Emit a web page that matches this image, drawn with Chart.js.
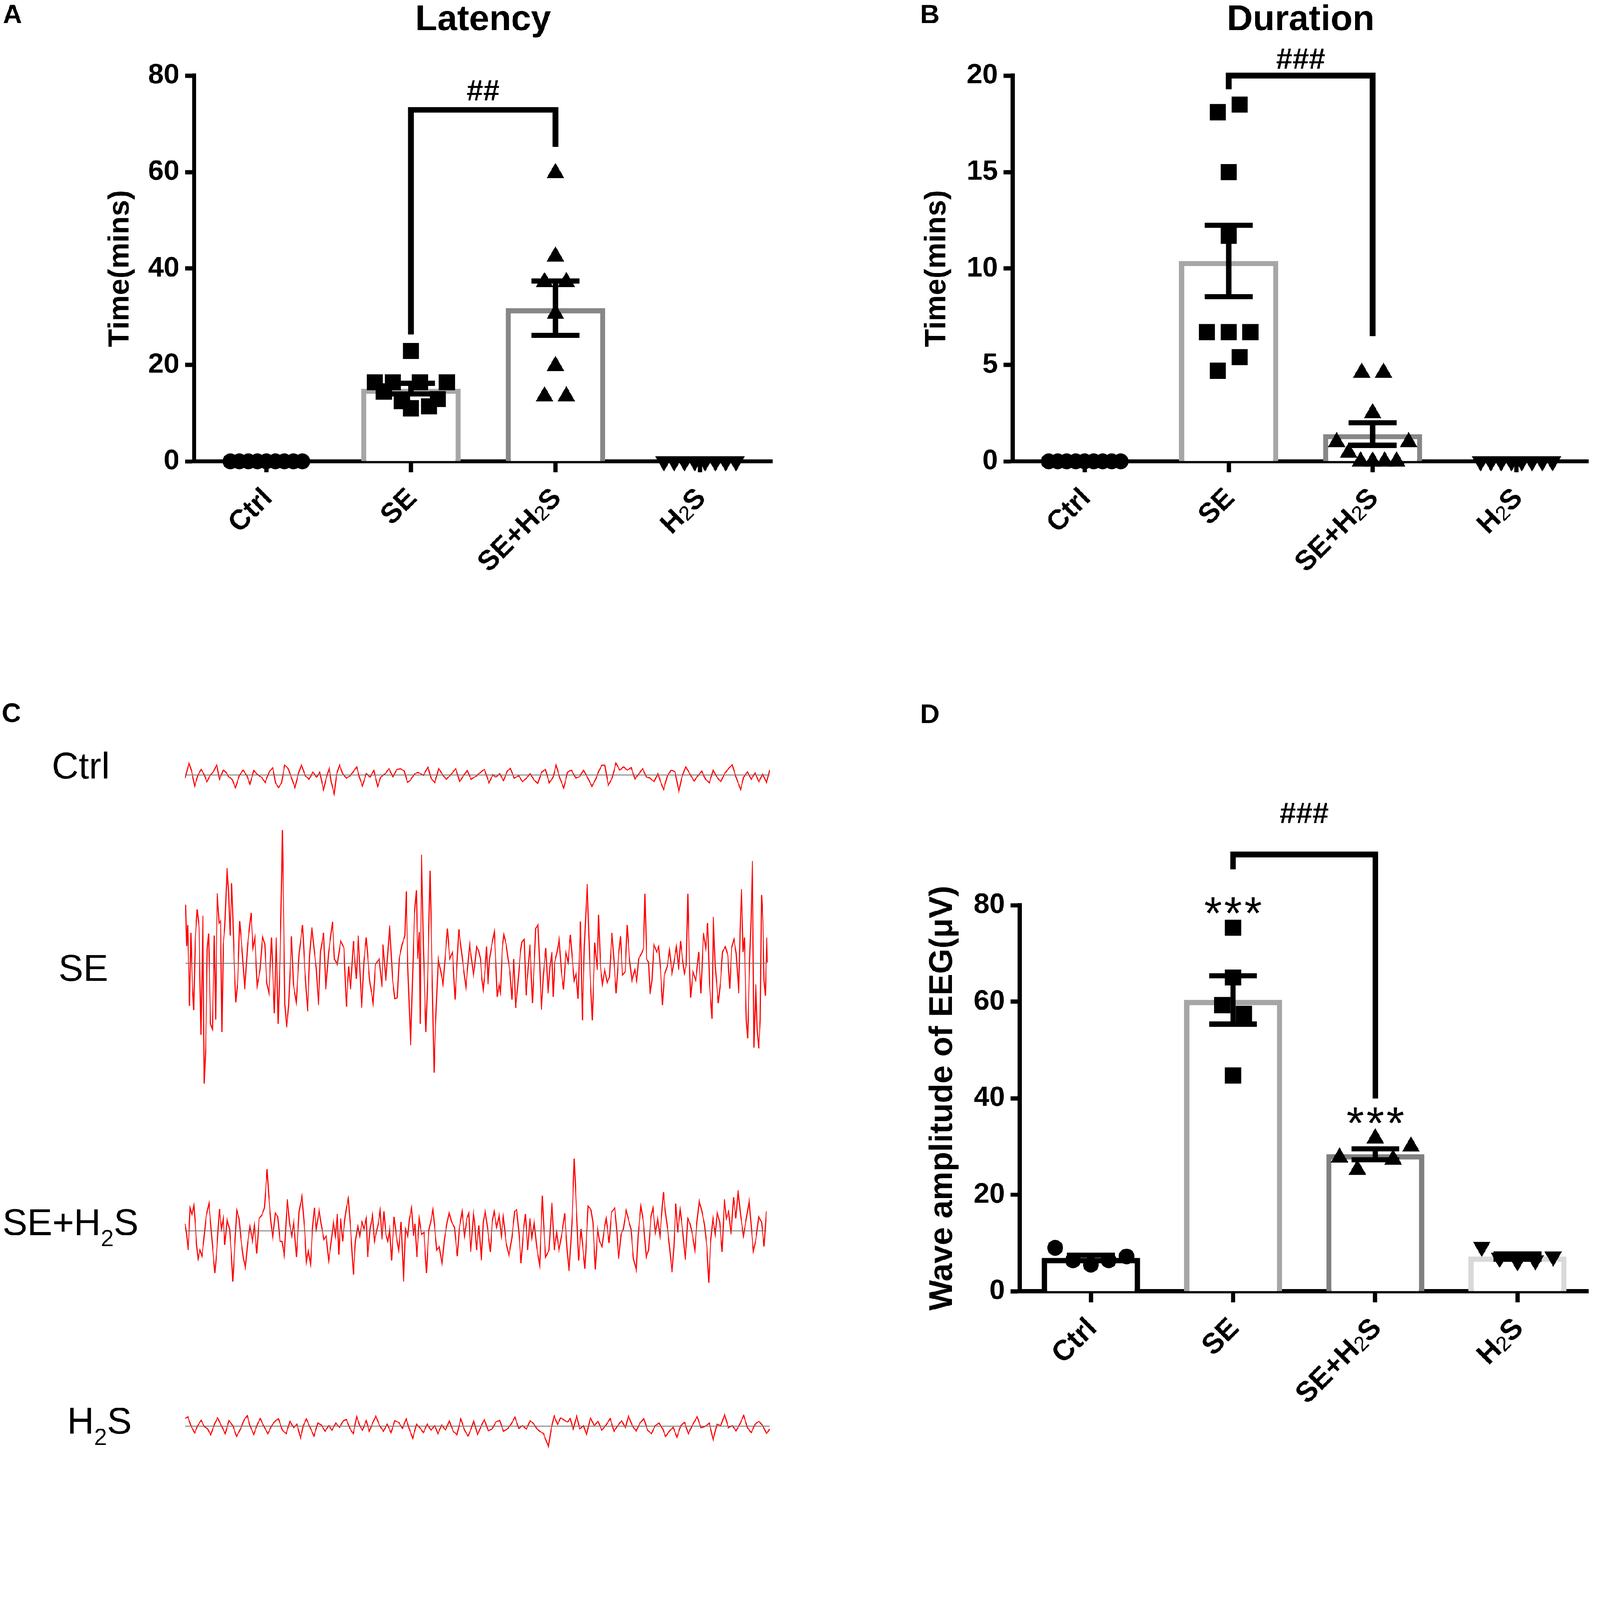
<!DOCTYPE html>
<html>
<head>
<meta charset="utf-8">
<script src="https://cdn.jsdelivr.net/npm/chart.js@4.4.1/dist/chart.umd.min.js"></script>
<style>
  html, body { margin: 0; padding: 0; background: #fff; overflow: hidden; }
  #page { position: absolute; left: 0; top: 0; width: 4550px; height: 4254px; transform-origin: 0 0; background: #fff; }
  canvas { position: absolute; }
</style>
</head>
<body>
<div id="page">
<canvas id="latency"></canvas>
<canvas id="duration"></canvas>
<canvas id="amplitude"></canvas>
<canvas id="eegCtrl"></canvas>
<canvas id="eegSE"></canvas>
<canvas id="eegSEH2S"></canvas>
<canvas id="eegH2S"></canvas>
</div>
<script>
const FONT = '"Liberation Sans", Arial, Helvetica, sans-serif';

// ---------- data ----------
const groups = ['Ctrl', 'SE', 'SE+H2S', 'H2S'];

// A: latency (mins), one value per animal, in plotted left-to-right order
const latencyCtrl = [0, 0, 0, 0, 0, 0, 0, 0, 0];
const latencySE = [16.4, 14.5, 16.4, 12.5, 22.9, 11.0, 16.4, 11.4, 12.9, 16.4];
const latencySEH2S = [13.5, 37.2, 59.8, 42.5, 30.6, 19.8, 13.5, 37.2];
const latencyH2S = [0, 0, 0, 0, 0, 0, 0, 0];
const latencyTicks = [0, 20, 40, 60, 80];

// B: duration (mins)
const durationCtrl = [0, 0, 0, 0, 0, 0, 0, 0, 0];
const durationSE = [6.7, 18.1, 4.7, 15.0, 11.7, 6.7, 18.5, 5.4, 6.7];
const durationSEH2S = [1.0, 0.45, 0, 4.6, 0, 2.5, 4.6, 0, 0, 1.0];
const durationH2S = [0, 0, 0, 0, 0, 0, 0, 0];
const durationTicks = [0, 5, 10, 15, 20];

// D: EEG wave amplitude (uV)
const ampCtrl = [9.0, 6.4, 5.5, 6.4, 7.2];
const ampSE = [59.3, 75.3, 65.0, 44.7, 57.5];
const ampSEH2S = [27.7, 25.2, 31.7, 27.3, 30.0];
const ampH2S = [9.2, 6.9, 6.2, 6.4, 7.2];
const ampTicks = [0, 20, 40, 60, 80];

// C: EEG traces as [sample, amplitude] pairs
const eegCtrl = [[12,-9],[32,34],[46,11],[62,-31],[78,-2],[96,16],[112,1],[126,-19],[142,-2],[162,11],[178,29],[192,-12],[212,14],[226,8],[242,-6],[258,-12],[276,-36],[296,-2],[316,14],[336,-2],[352,-26],[372,13],[392,1],[412,-6],[432,-21],[452,8],[472,21],[486,-22],[502,-36],[518,-22],[534,28],[552,19],[572,-11],[588,-36],[606,4],[622,29],[642,-2],[662,-12],[682,8],[702,-6],[718,8],[738,-42],[752,-9],[768,19],[778,-19],[794,-54],[806,1],[822,28],[838,4],[858,-9],[878,-2],[892,8],[912,23],[926,-6],[942,-31],[962,4],[982,-6],[1002,13],[1022,-32],[1038,-6],[1062,4],[1082,18],[1102,-6],[1122,16],[1142,18],[1162,11],[1178,-21],[1192,-16],[1212,1],[1232,8],[1262,-1],[1286,23],[1302,-9],[1322,-22],[1342,19],[1362,1],[1382,-12],[1406,1],[1432,18],[1452,-19],[1472,-2],[1492,13],[1512,-12],[1542,-2],[1562,8],[1582,16],[1606,-22],[1626,1],[1642,-6],[1662,4],[1682,-16],[1702,11],[1718,19],[1738,-9],[1762,-2],[1782,-19],[1802,-9],[1822,4],[1842,-14],[1862,-24],[1882,8],[1902,16],[1922,-22],[1942,-7],[1958,28],[1978,-9],[1998,-37],[2018,8],[2038,14],[2062,-9],[2082,-4],[2102,14],[2122,-6],[2146,-32],[2166,-12],[2182,11],[2198,28],[2214,28],[2232,-29],[2252,-9],[2272,34],[2292,14],[2312,23],[2332,14],[2352,21],[2372,-11],[2392,3],[2412,18],[2432,-6],[2452,-9],[2472,-19],[2492,4],[2506,-19],[2522,-41],[2542,-2],[2562,14],[2582,9],[2602,-46],[2618,-6],[2638,24],[2662,1],[2682,-17],[2702,-2],[2722,11],[2742,-12],[2762,-22],[2782,14],[2802,-6],[2822,-19],[2842,4],[2862,18],[2882,29],[2902,-6],[2926,-41],[2942,-6],[2962,9],[2982,-12],[3002,6],[3022,-19],[3042,3],[3062,-22],[3078,14]];

const eegSE = [[15,166],[20,48],[25,109],[35,-121],[42,86],[50,-60],[57,-134],[65,68],[75,153],[85,104],[95,-204],[105,135],[112,-342],[120,-240],[128,43],[135,84],[145,-173],[155,-188],[165,78],[172,-160],[180,199],[190,114],[198,120],[205,-196],[212,53],[220,104],[232,271],[240,204],[248,78],[256,227],[262,135],[270,-9],[278,-111],[288,-50],[298,120],[310,43],[325,-75],[340,53],[358,143],[368,43],[378,73],[390,-65],[405,-19],[418,76],[430,53],[440,-55],[452,-86],[465,73],[480,-142],[490,73],[500,-173],[510,12],[518,232],[522,379],[528,171],[535,-116],[545,-183],[555,-121],[570,76],[580,-60],[595,-111],[610,27],[628,109],[640,-19],[655,-137],[665,22],[677,102],[690,32],[700,-14],[712,-119],[722,32],[738,86],[750,-75],[765,32],[785,117],[795,12],[810,-4],[828,63],[845,43],[858,-124],[870,-9],[880,-75],[895,63],[910,-45],[920,78],[938,-127],[950,7],[962,73],[980,-50],[998,-114],[1010,-4],[1030,12],[1045,-68],[1050,53],[1065,-50],[1085,107],[1100,-45],[1112,-101],[1125,-98],[1135,12],[1150,53],[1165,78],[1172,204],[1180,-9],[1195,-234],[1205,-45],[1215,140],[1225,207],[1232,12],[1240,89],[1245,-173],[1252,309],[1262,43],[1275,-196],[1285,-34],[1297,263],[1305,43],[1318,-311],[1325,-183],[1340,12],[1355,-29],[1365,-60],[1388,99],[1400,12],[1415,32],[1428,-104],[1448,96],[1462,32],[1485,-68],[1505,53],[1525,-34],
  [1531,-9],[1541,47],[1551,37],[1561,12],[1569,-45],[1576,-75],[1586,-14],[1593,47],[1601,-60],[1609,12],[1621,53],[1634,89],[1643,-14],[1649,-96],[1659,-60],[1666,-83],[1676,43],[1684,81],[1696,53],[1706,12],[1716,-24],[1726,-104],[1736,12],[1746,-127],[1756,-70],[1771,32],[1779,61],[1791,68],[1801,-91],[1811,-19],[1821,53],[1834,-114],[1846,32],[1851,99],[1863,109],[1871,12],[1881,-132],[1891,-34],[1904,43],[1916,-86],[1926,-9],[1936,32],[1943,-96],[1951,2],[1963,32],[1974,68],[1986,-24],[1997,-75],[2009,32],[2021,2],[2033,81],[2043,12],[2053,-50],[2063,-29],[2073,-101],[2086,119],[2096,-163],[2106,43],[2121,225],[2129,94],[2137,-34],[2148,-163],[2161,58],[2174,-19],[2181,137],[2191,-9],[2201,-60],[2213,-19],[2226,-55],[2238,-40],[2251,86],[2261,12],[2273,-86],[2286,22],[2296,76],[2306,-34],[2321,-24],[2331,109],[2343,12],[2356,-50],[2371,-19],[2381,-50],[2391,12],[2406,27],[2417,43],[2424,197],[2433,12],[2443,2],[2451,-88],[2461,-50],[2471,53],[2486,32],[2496,47],[2506,-19],[2516,-119],[2526,-34],[2541,-9],[2553,37],[2566,-29],[2576,2],[2589,47],[2601,-19],[2611,63],[2621,12],[2631,-29],[2641,-4],[2649,197],[2657,12],[2664,-98],[2676,-24],[2691,-50],[2706,32],[2718,-86],[2731,86],[2743,43],[2753,114],[2763,-60],[2776,-158],[2783,132],[2793,-9],[2809,-114],[2821,-50],[2831,32],[2846,47],[2859,22],[2869,-73],[2879,43],[2891,68],[2903,27],[2916,-86],[2924,99],[2931,211],[2939,32],[2946,73],[2956,-163],[2963,-214],[2973,2],[2981,122],[2988,291],[2996,-240],[3006,-60],[3013,-188],[3021,-242],[3029,-163],[3036,194],[3043,125],[3049,-50],[3056,-93],[3063,73],[3066,2]];

const eegSEH2S = [[12,20],[20,-10],[28,-55],[38,65],[48,45],[58,72],[65,20],[72,-40],[80,-80],[90,-55],[100,-72],[110,-25],[122,40],[137,78],[148,5],[158,-60],[168,-120],[178,-55],[192,62],[203,5],[212,35],[220,-40],[232,32],[245,5],[255,-70],[262,-145],[270,-65],[283,58],[295,35],[305,-25],[318,-80],[328,-105],[340,-35],[352,12],[365,-30],[375,15],[388,-65],[400,35],[415,45],[428,65],[442,175],[450,105],[462,25],[472,-20],[485,50],[498,40],[510,-30],[520,-30],[532,-70],[548,90],[560,20],[572,-15],[582,25],[596,-75],[610,55],[625,98],[640,-5],[648,-88],[658,-55],[670,-95],[680,5],[690,65],[700,5],[715,58],[725,20],[740,-25],[752,-15],[765,-85],[775,-45],[790,25],[800,-15],[810,48],[818,-68],[828,35],[838,-30],[850,35],[858,65],[868,92],[880,5],[895,-125],[905,-30],[918,15],[928,-15],[940,25],[950,5],[962,35],[970,-75],[982,5],[995,45],[1005,-30],[1015,-5],[1025,20],[1035,58],[1045,-25],[1055,55],[1065,-10],[1075,-30],[1085,5],[1095,-85],[1108,40],[1120,-15],[1132,-55],[1145,25],[1158,-145],[1168,5],[1180,-15],[1188,32],[1200,65],[1210,-15],[1218,20],[1228,-75],[1240,35],[1252,-10],[1265,-5],[1278,-120],[1290,0],[1300,25],[1312,60],[1322,5],[1332,-55],[1345,-45],[1360,-95],[1372,-25],[1385,20],[1397,52],[1410,25],[1425,10],[1440,-72],[1450,5],[1465,55],[1478,-15],[1490,35],[1500,50],[1510,-60],[1525,50],
  [1531,25],[1541,-55],[1553,15],[1566,-85],[1576,25],[1586,55],[1599,5],[1613,-60],[1623,25],[1633,55],[1646,10],[1659,45],[1671,-15],[1681,40],[1696,-35],[1711,-70],[1726,-20],[1741,55],[1751,60],[1763,-5],[1774,-92],[1786,-5],[1797,48],[1809,-55],[1821,35],[1831,-20],[1843,25],[1856,-45],[1872,-98],[1886,100],[1893,15],[1903,-75],[1921,-55],[1936,80],[1949,-55],[1961,-5],[1973,-55],[1991,0],[2003,50],[2016,-55],[2026,-115],[2036,-30],[2043,45],[2053,205],[2061,110],[2069,10],[2076,-85],[2089,5],[2109,-108],[2126,70],[2141,60],[2151,25],[2164,-110],[2176,5],[2186,-30],[2199,-45],[2211,5],[2221,35],[2236,-35],[2249,52],[2266,65],[2276,5],[2286,-80],[2299,-10],[2311,5],[2326,58],[2341,25],[2351,5],[2364,-80],[2379,-112],[2389,-10],[2403,70],[2416,25],[2431,-75],[2443,-55],[2456,40],[2466,65],[2479,-5],[2491,35],[2503,-15],[2521,110],[2531,55],[2543,5],[2553,-45],[2566,-118],[2576,-45],[2586,78],[2596,-5],[2609,60],[2623,-5],[2636,-82],[2649,35],[2661,20],[2673,-10],[2686,-55],[2696,20],[2709,85],[2721,60],[2736,20],[2749,-45],[2759,-148],[2769,-30],[2781,35],[2793,-10],[2803,52],[2816,25],[2829,-60],[2841,90],[2851,35],[2863,55],[2876,-10],[2889,95],[2901,35],[2913,115],[2926,45],[2941,-15],[2956,35],[2971,85],[2983,5],[2993,-58],[3006,-25],[3021,40],[3036,25],[3049,-45],[3061,55]];

const eegH2S = [[12,22],[26,27],[42,2],[62,-19],[78,2],[96,17],[112,-1],[128,-6],[146,-24],[166,6],[182,24],[202,2],[222,-21],[242,16],[262,2],[282,-29],[302,-8],[322,19],[338,30],[352,2],[372,-23],[392,7],[406,22],[426,-1],[446,-21],[466,2],[486,16],[502,21],[522,-11],[542,-21],[562,14],[582,-4],[598,6],[618,-33],[632,2],[648,21],[668,-4],[688,-28],[708,9],[726,4],[746,-14],[766,2],[782,-11],[802,9],[822,-3],[842,16],[858,19],[878,-8],[894,-21],[912,27],[928,2],[942,-11],[962,16],[978,-14],[998,12],[1012,29],[1032,2],[1052,-14],[1072,6],[1092,-18],[1112,16],[1132,11],[1152,-6],[1172,21],[1188,-8],[1206,-34],[1226,6],[1246,-6],[1262,-18],[1282,6],[1302,-11],[1322,2],[1338,-21],[1358,4],[1378,-11],[1398,16],[1418,-14],[1438,-24],[1458,21],[1478,-11],[1496,-28],[1512,-8],[1526,16],[1546,-24],[1566,2],[1582,19],[1602,-13],[1622,-8],[1642,12],[1662,17],[1682,-14],[1702,-8],[1722,6],[1742,26],[1762,-6],[1782,2],[1802,-8],[1822,16],[1842,6],[1858,-8],[1872,-14],[1892,-21],[1906,-41],[1918,-58],[1932,-8],[1948,29],[1966,6],[1982,24],[2002,17],[2018,12],[2032,22],[2048,-8],[2066,29],[2082,-8],[2102,2],[2118,-24],[2138,24],[2158,2],[2178,14],[2198,-11],[2218,2],[2242,22],[2262,-14],[2282,2],[2302,16],[2322,-4],[2338,29],[2358,2],[2378,-14],[2398,9],[2418,22],[2438,-11],[2458,-21],[2478,2],[2498,9],[2518,-8],[2532,-29],[2552,-14],[2572,-3],[2592,-31],[2612,2],[2632,11],[2652,-21],[2672,2],[2698,27],[2718,-4],[2738,-1],[2762,9],[2782,-38],[2802,6],[2822,2],[2842,33],[2862,-4],[2882,2],[2902,-13],[2922,6],[2942,31],[2962,-4],[2982,-18],[3002,6],[3022,14],[3042,2],[3062,-21],[3078,-8]];

// ---------- styling ----------
const markers = [
  { style: 'circle', radius: 22.5, rotation: 0 },
  { style: 'rect', radius: 32.5, rotation: 0 },
  { style: 'triangle', radius: 29, rotation: 0 },
  { style: 'triangle', radius: 29, rotation: 180 }
];
const CAP = 68;          // half width of error bar caps
const ROW_GAP = 40;      // px: points closer than this share a row
const MAX_STEP = 62;     // px between neighbours in a row
const MAX_SPREAD = 205;  // px total width of a row
const X_HEIGHT = 200;
const LABEL_DROP = 88;

// the page is laid out at 4550 x 4254 and scaled to whatever the viewport is
const fit = Math.min(window.innerWidth / 4550, window.innerHeight / 4254);
document.getElementById('page').style.transform = 'scale(' + fit + ')';

Chart.defaults.font.family = FONT;
Chart.defaults.color = '#000';

function mean(a) { return a.reduce((s, v) => s + v, 0) / a.length; }
function sem(a) {
  const m = mean(a);
  const ss = a.reduce((s, v) => s + (v - m) * (v - m), 0);
  return Math.sqrt(ss / (a.length - 1)) / Math.sqrt(a.length);
}

// horizontal scatter of points, GraphPad style: near-equal values share a row
function spread(values, unitPx, catPx) {
  const idx = values.map((v, i) => i).sort((a, b) => values[a] - values[b] || a - b);
  const rows = [];
  let row = [];
  idx.forEach((i, k) => {
    if (k > 0 && (values[i] - values[idx[k - 1]]) * unitPx > ROW_GAP) { rows.push(row); row = []; }
    row.push(i);
  });
  rows.push(row);
  const offsets = new Array(values.length).fill(0);
  rows.forEach(r => {
    r.sort((a, b) => a - b);
    const step = r.length > 1 ? Math.min(MAX_STEP, MAX_SPREAD / (r.length - 1)) : 0;
    r.forEach((i, j) => { offsets[i] = (j - (r.length - 1) / 2) * step / catPx; });
  });
  return offsets;
}

// split "SE+H2S" into runs so the digit can be drawn smaller
function labelRuns(text) {
  return text.split(/(\d)/).filter(s => s).map(s => ({ text: s, small: /^\d$/.test(s) }));
}

function drawRuns(ctx, runs, x, y, align, mainFont, smallFont, dy) {
  const widths = runs.map(r => { ctx.font = r.small ? smallFont : mainFont; return ctx.measureText(r.text).width; });
  let cx = align === 'right' ? x - widths.reduce((a, b) => a + b, 0) : x;
  ctx.textAlign = 'left';
  ctx.textBaseline = 'alphabetic';
  runs.forEach((r, i) => {
    ctx.font = r.small ? smallFont : mainFont;
    ctx.fillText(r.text, cx, y + (r.small ? dy : 0));
    cx += widths[i];
  });
}

function decorPlugin(spec, stats) {
  const top0 = spec.box.top, left0 = spec.box.left;
  return {
    id: 'decor',
    afterDatasetsDraw(chart) {
      const { ctx } = chart;
      const x = chart.scales.x, y = chart.scales.y;
      ctx.save();
      ctx.strokeStyle = '#000';
      ctx.fillStyle = '#000';
      ctx.lineWidth = 15;
      ctx.lineCap = 'butt';
      stats.forEach((st, i) => {
        if (!st.sem) return;
        const cx = x.getPixelForValue(i);
        const hi = y.getPixelForValue(st.mean + st.sem);
        const lo = y.getPixelForValue(st.mean - st.sem);
        ctx.beginPath();
        ctx.moveTo(cx, hi); ctx.lineTo(cx, lo);
        ctx.moveTo(cx - CAP, hi); ctx.lineTo(cx + CAP, hi);
        ctx.moveTo(cx - CAP, lo); ctx.lineTo(cx + CAP, lo);
        ctx.stroke();
      });

      const b = spec.bracket;
      const x1 = x.getPixelForValue(b.from), x2 = x.getPixelForValue(b.to);
      const yt = y.getPixelForValue(b.top);
      ctx.lineWidth = 16;
      ctx.lineJoin = 'miter';
      ctx.beginPath();
      ctx.moveTo(x1, y.getPixelForValue(b.left));
      ctx.lineTo(x1, yt);
      ctx.lineTo(x2, yt);
      ctx.lineTo(x2, y.getPixelForValue(b.right));
      ctx.stroke();
      ctx.font = 'bold 84px ' + FONT;
      ctx.textAlign = 'center';
      ctx.textBaseline = 'alphabetic';
      ctx.fillText(b.text, (x1 + x2) / 2, y.getPixelForValue(b.textAt));

      (spec.stars || []).forEach(s => {
        ctx.font = '130px ' + FONT;
        ctx.textAlign = 'center';
        const m = ctx.measureText('*');
        const c = y.getPixelForValue(s.at);
        const base = c - (m.actualBoundingBoxDescent - m.actualBoundingBoxAscent) / 2;
        const cx = x.getPixelForValue(s.group);
        for (let k = -1; k <= 1; k++) ctx.fillText('*', cx + k * 57, base);
      });
      ctx.restore();
    },
    afterDraw(chart) {
      const { ctx, chartArea } = chart;
      const x = chart.scales.x;
      ctx.save();
      ctx.fillStyle = '#000';
      if (spec.title) {
        ctx.font = 'bold 102px ' + FONT;
        ctx.textAlign = 'center';
        ctx.textBaseline = 'alphabetic';
        ctx.fillText(spec.title, (chartArea.left + chartArea.right) / 2, 86 - top0);
      }
      ctx.font = 'bold 76px ' + FONT;
      ctx.textAlign = 'left';
      ctx.textBaseline = 'alphabetic';
      ctx.fillText(spec.letter.text, spec.letter.x - left0, spec.letter.y - top0);

      const size = spec.labelSize;
      groups.forEach((g, i) => {
        ctx.save();
        ctx.translate(x.getPixelForValue(i), x.top + LABEL_DROP);
        ctx.rotate(-Math.PI / 4);
        drawRuns(ctx, labelRuns(g), 0, 0.36 * size, 'right',
          'bold ' + size + 'px ' + FONT, Math.round(size * 0.72) + 'px ' + FONT, 0.06 * size);
        ctx.restore();
      });
      ctx.restore();
    }
  };
}

function groupChart(spec) {
  const canvas = document.getElementById(spec.id);
  const b = spec.box, a = spec.area;
  canvas.width = b.width;
  canvas.height = b.height;
  canvas.style.left = b.left + 'px';
  canvas.style.top = b.top + 'px';
  const unitPx = (a.bottom - a.top) / spec.yMax;
  const catPx = (a.right - a.left) / groups.length;
  const stats = spec.series.map(s => ({ mean: mean(s), sem: sem(s) }));

  const datasets = [{
    type: 'bar',
    xAxisID: 'x',
    data: stats.map(s => s.mean),
    backgroundColor: '#fff',
    borderColor: spec.barColors,
    borderWidth: 15,
    barPercentage: 0.69,
    categoryPercentage: 1,
    grouped: false,
    order: 3
  }];
  spec.series.forEach((vals, gi) => {
    const off = spread(vals, unitPx, catPx);
    const m = markers[gi];
    datasets.push({
      type: 'scatter',
      xAxisID: 'xj',
      data: vals.map((v, k) => ({ x: gi + off[k], y: v })),
      pointStyle: m.style,
      pointRadius: m.radius,
      pointRotation: m.rotation,
      pointBackgroundColor: '#000',
      pointBorderWidth: 0,
      grouped: false,
      clip: false,
      order: 2
    });
  });

  return new Chart(canvas, {
    type: 'bar',
    data: { labels: groups, datasets },
    options: {
      responsive: false,
      animation: false,
      devicePixelRatio: 1,
      events: [],
      layout: {
        padding: {
          left: spec.yTitleLeft - b.left,
          right: b.left + b.width - a.right,
          top: a.top - b.top,
          bottom: b.top + b.height - a.bottom - X_HEIGHT
        }
      },
      plugins: { legend: { display: false }, tooltip: { enabled: false } },
      scales: {
        x: {
          type: 'category',
          offset: true,
          ticks: { display: false },
          grid: { offset: false, drawOnChartArea: false, tickLength: 31, tickWidth: 12, tickColor: '#000' },
          border: { display: true, width: 12, color: '#000' },
          afterFit: s => { s.height = X_HEIGHT; }
        },
        xj: { type: 'linear', display: false, min: -0.5, max: groups.length - 0.5, offset: false },
        y: {
          min: 0,
          max: spec.yMax,
          afterBuildTicks: s => { s.ticks = spec.ticks.map(v => ({ value: v })); },
          ticks: { color: '#000', padding: 16, font: { size: 80, weight: 'bold' } },
          grid: { drawOnChartArea: false, tickLength: 26, tickWidth: 12, tickColor: '#000' },
          border: { display: true, width: 12, color: '#000' },
          title: {
            display: true, text: spec.yTitle, color: '#000',
            padding: { top: 4, bottom: 0 },
            font: { size: spec.yTitleSize, weight: 'bold' }
          },
          afterFit: s => { s.width = a.left - spec.yTitleLeft; }
        }
      }
    },
    plugins: [decorPlugin(spec, stats)]
  });
}

function traceChart(id, trace, box, range, label, labelPos, letter) {
  const canvas = document.getElementById(id);
  canvas.width = box.width;
  canvas.height = box.height;
  canvas.style.left = box.left + 'px';
  canvas.style.top = box.top + 'px';
  const baseline = [[trace[0][0], 0], [trace[trace.length - 1][0], 0]];
  return new Chart(canvas, {
    type: 'line',
    data: {
      datasets: [
        { data: baseline, borderColor: '#6e6e6e', borderWidth: 2, pointRadius: 0, order: 0 },
        { data: trace, borderColor: '#ff0000', borderWidth: 3, pointRadius: 0, tension: 0, order: 1 }
      ]
    },
    options: {
      responsive: false,
      animation: false,
      devicePixelRatio: 1,
      events: [],
      layout: { padding: { left: 520, right: 5, top: box.padTop || 0, bottom: 0 } },
      plugins: { legend: { display: false }, tooltip: { enabled: false } },
      scales: {
        x: { type: 'linear', display: false, min: 0, max: 3090 },
        y: { display: false, min: -range, max: range }
      }
    },
    plugins: [{
      id: 'traceLabel',
      afterDraw(chart) {
        const ctx = chart.ctx;
        ctx.save();
        ctx.fillStyle = '#000';
        drawRuns(ctx, labelRuns(label), labelPos.x, labelPos.y, 'left',
          '106px ' + FONT, '66px ' + FONT, 32);
        if (letter) {
          ctx.font = 'bold 76px ' + FONT;
          ctx.textAlign = 'left';
          ctx.fillText(letter.text, letter.x, letter.y);
        }
        ctx.restore();
      }
    }]
  });
}

// ---------- panels ----------
groupChart({
  id: 'latency',
  box: { left: 0, top: 0, width: 2280, height: 1700 },
  area: { left: 552, right: 2196, top: 215, bottom: 1312 },
  yTitleLeft: 288,
  series: [latencyCtrl, latencySE, latencySEH2S, latencyH2S],
  ticks: latencyTicks, yMax: 80,
  yTitle: 'Time(mins)', yTitleSize: 84,
  title: 'Latency',
  letter: { text: 'A', x: 8, y: 66 },
  labelSize: 80,
  barColors: ['#000000', '#a6a6a6', '#878787', '#d9d9d9'],
  bracket: { from: 1, to: 2, left: 26.3, top: 72.9, right: 65.2, text: '##', textAt: 74.8 }
});

groupChart({
  id: 'duration',
  box: { left: 2560, top: 0, width: 1990, height: 1700 },
  area: { left: 2880, right: 4520, top: 215, bottom: 1312 },
  yTitleLeft: 2610,
  series: [durationCtrl, durationSE, durationSEH2S, durationH2S],
  ticks: durationTicks, yMax: 20,
  yTitle: 'Time(mins)', yTitleSize: 84,
  title: 'Duration',
  letter: { text: 'B', x: 2617, y: 66 },
  labelSize: 80,
  barColors: ['#000000', '#a6a6a6', '#878787', '#d9d9d9'],
  bracket: { from: 1, to: 2, left: 19.3, top: 20, right: 6.5, text: '###', textAt: 20.35 }
});

groupChart({
  id: 'amplitude',
  box: { left: 2560, top: 1990, width: 1990, height: 2060 },
  area: { left: 2900, right: 4532, top: 2574, bottom: 3672 },
  yTitleLeft: 2622,
  series: [ampCtrl, ampSE, ampSEH2S, ampH2S],
  ticks: ampTicks, yMax: 80,
  yTitle: 'Wave amplitude of EEG(μV)', yTitleSize: 92,
  title: null,
  letter: { text: 'D', x: 2617, y: 2056 },
  labelSize: 82,
  barColors: ['#000000', '#a6a6a6', '#808080', '#d9d9d9'],
  bracket: { from: 1, to: 2, left: 87.4, top: 90.5, right: 39.9, text: '###', textAt: 97.0 },
  stars: [{ group: 1, at: 79.9 }, { group: 2, at: 36.4 }]
});

traceChart('eegCtrl', eegCtrl, { left: 0, top: 1990, width: 2200, height: 314, padTop: 114 }, 100,
  'Ctrl', { x: 147, y: 224 }, { text: 'C', x: 5, y: 63 });
traceChart('eegSE', eegSE, { left: 0, top: 2339, width: 2200, height: 800 }, 400,
  'SE', { x: 166, y: 450 });
traceChart('eegSEH2S', eegSEH2S, { left: 0, top: 3250, width: 2200, height: 500 }, 250,
  'SE+H2S', { x: 7, y: 262 });
traceChart('eegH2S', eegH2S, { left: 0, top: 3956, width: 2200, height: 200 }, 100,
  'H2S', { x: 191, y: 121 });
</script>
</body>
</html>
